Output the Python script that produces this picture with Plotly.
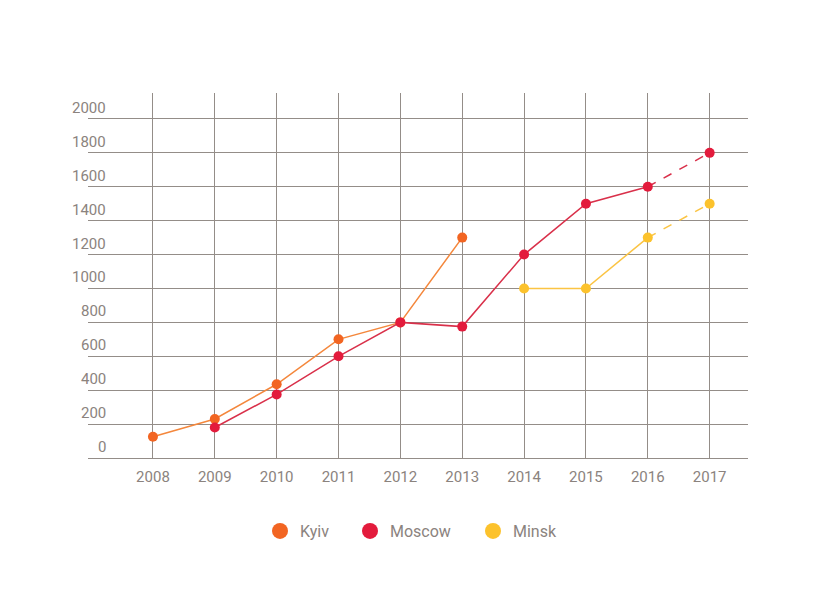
import plotly.graph_objects as go

years = [2008, 2009, 2010, 2011, 2012, 2013, 2014, 2015, 2016, 2017]
kyiv = [125, 230, 435, 700, 800, 1300, None, None, None, None]
moscow = [None, 180, 375, 600, 800, 775, 1200, 1500, 1600, 1800]
minsk = [None, None, None, None, None, None, 1000, 1000, 1300, 1500]
y_ticks = [0, 200, 400, 600, 800, 1000, 1200, 1400, 1600, 1800, 2000]

series = [
    ("Kyiv", kyiv, "#f26522", "#f4873c", False),
    ("Moscow", moscow, "#e31b3c", "#d9304a", True),
    ("Minsk", minsk, "#fcc22c", "#fbc443", True),
]

TEXT = "#8b837e"
GRID = "#948d88"
FONT = "Roboto"

fig = go.Figure()
for name, vals, mcol, lcol, forecast in series:
    if forecast:
        solid_x, solid_y = years[:-1], vals[:-1]
        fig.add_trace(go.Scatter(x=years[-2:], y=vals[-2:], mode="lines",
                                 line=dict(color=lcol, width=1.5, dash="dash"),
                                 showlegend=False, hoverinfo="skip"))
    else:
        solid_x, solid_y = years, vals
    fig.add_trace(go.Scatter(x=solid_x, y=solid_y, mode="lines",
                             line=dict(color=lcol, width=1.5),
                             connectgaps=False, showlegend=False))
    fig.add_trace(go.Scatter(x=years, y=vals, mode="markers",
                             marker=dict(color=mcol, size=10),
                             showlegend=False, name=name))

# page is offset by the 8px body margin
OFF = 8
x0, x1 = 88, 748
def px_to_paper(px):
    return (px - x0) / (x1 - x0)

legend_pos = {"Kyiv": 279, "Moscow": 369, "Minsk": 492}
for i, (name, vals, mcol, lcol, forecast) in enumerate(series):
    lg = "legend" if i == 0 else f"legend{i+1}"
    fig.add_trace(go.Scatter(x=[None], y=[None], mode="markers", name=name,
                             marker=dict(color=mcol, size=16),
                             legend=lg, showlegend=True))

legend_common = dict(orientation="h", yanchor="middle", y=-0.2, xanchor="left",
                     bgcolor="rgba(0,0,0,0)", borderwidth=0,
                     font=dict(family=FONT, size=16, color=TEXT))
layout_legends = {}
for i, (name, *_rest) in enumerate(series):
    key = "legend" if i == 0 else f"legend{i+1}"
    layout_legends[key] = dict(legend_common, x=px_to_paper(legend_pos[name] - 19))

annotations = [
    dict(x=px_to_paper(108), y=v, xref="paper", yref="y", text=str(v),
         showarrow=False, xanchor="right", yanchor="middle", yshift=11,
         font=dict(family=FONT, size=15, color=TEXT))
    for v in y_ticks
]

fig.update_layout(
    width=820 - OFF, height=612 - OFF,
    margin=dict(l=88 - OFF, r=72, t=93 - OFF, b=154),
    paper_bgcolor="white", plot_bgcolor="white",
    font=dict(family=FONT, size=15, color=TEXT),
    xaxis=dict(range=[2006.95, 2017.62], tickmode="array", tickvals=years,
               ticktext=[str(y) for y in years], showgrid=True,
               gridcolor=GRID, gridwidth=1.3, zeroline=False, showline=False,
               ticks="", ticklabelstandoff=8,
               tickfont=dict(size=15, color=TEXT)),
    yaxis=dict(range=[0, 2153], tickmode="array", tickvals=y_ticks,
               showgrid=True, gridcolor=GRID, gridwidth=1.3,
               zeroline=True, zerolinecolor=GRID, zerolinewidth=1.3,
               showline=False, ticks="", showticklabels=False),
    annotations=annotations,
    showlegend=True,
    **layout_legends,
)

fig.write_html("out.html")
